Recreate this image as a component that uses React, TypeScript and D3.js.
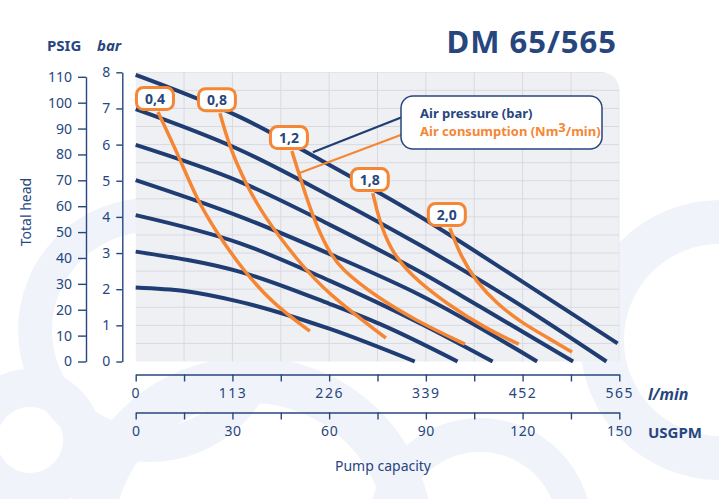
import React, { useRef, useEffect } from "react";
import * as d3 from "d3";

type Pt = [number, number]; // [l/min, bar]

// axis ticks
const flowTicks = [0, 56.5, 113, 169.5, 226, 282.5, 339, 395.5, 452, 508.5, 565];
const flowLabels = [0, 113, 226, 339, 452, 565];
const gpmTicks = [0, 15, 30, 45, 60, 75, 90, 105, 120, 135, 150];
const gpmLabels = [0, 30, 60, 90, 120, 150];
const psigTicks = [0, 10, 20, 30, 40, 50, 60, 70, 80, 90, 100, 110];
const barTicks = [0, 1, 2, 3, 4, 5, 6, 7, 8];

// air pressure curves (bar)
const pressure8: Pt[] = [[0, 7.93], [122, 6.76], [227, 5.43], [332, 4.01], [449, 2.25], [563, 0.5]];
const pressure7: Pt[] = [[0, 6.98], [122, 5.85], [227, 4.58], [332, 3.22], [425, 1.92], [550, 0]];
const pressure6: Pt[] = [[0, 5.99], [122, 4.97], [227, 3.78], [332, 2.48], [402, 1.52], [511, 0]];
const pressure5: Pt[] = [[0, 5.02], [122, 4.01], [227, 2.97], [332, 1.84], [469, 0]];
const pressure4: Pt[] = [[0, 4.05], [122, 3.27], [227, 2.23], [332, 1.06], [417, 0]];
const pressure3: Pt[] = [[0, 3.04], [122, 2.48], [227, 1.59], [285, 1.04], [376, 0]];
const pressure2: Pt[] = [[0, 2.05], [57, 1.95], [122, 1.65], [227, 0.9], [326, 0]];

// air consumption curves (Nm3/min)
const consumption04: Pt[] = [[26, 6.9], [50, 5.7], [71.6, 4.47], [95, 3.55], [125.3, 2.53], [160.3, 1.6], [203.5, 0.84]];
const consumption08: Pt[] = [[98.4, 6.87], [110, 5.91], [128, 4.95], [148.7, 4.05], [188.5, 2.81], [223.4, 1.89], [292.3, 0.65]];
const consumption12: Pt[] = [[182.5, 5.82], [191.9, 5.1], [207, 3.99], [224.5, 3.08], [240, 2.55], [281.8, 1.78], [326, 1.15], [384.6, 0.48]];
const consumption18: Pt[] = [[277, 4.66], [284, 3.95], [297, 3.12], [320, 2.4], [364, 1.58], [410, 0.9], [447.6, 0.48]];
const consumption20: Pt[] = [[367, 3.69], [380, 2.9], [398, 2.2], [422, 1.6], [449, 1.1], [484, 0.62], [509.8, 0.26]];
const consumptionLabels = ["0,4", "0,8", "1,2", "1,8", "2,0"];

const BLUE = "#1f3d72";
const TEXT = "#27467e";
const ORANGE = "#f58634";
const FONT = "'Noto Sans', 'Open Sans', sans-serif";

export default function App() {
    const svgRef = useRef<SVGSVGElement | null>(null);

    useEffect(() => {
        if (!svgRef.current) return;
        const svg = d3.select(svgRef.current);
        svg.selectAll("*").remove();

        const left = 135.7, right = 619.3, top = 72.3, bottom = 361.5;
        const x = d3.scaleLinear().domain([0, 565]).range([left, right]);
        const xGpm = d3.scaleLinear().domain([0, 150]).range([left, right]);
        const y = d3.scaleLinear().domain([0, 8]).range([bottom, top]);
        const yPsig = d3.scaleLinear().domain([0, 110]).range([bottom, 76.8]);

        // watermark swirls
        const wm = svg.append("g").attr("fill", "none").attr("stroke", "#f0f4fa");
        [[30, 440, 52, 38], [250, 540, 160, 46], [720, 340, 118, 44], [480, 530, 95, 34], [150, 330, 115, 34]].forEach(
            ([cx, cy, r, w]) => {
                wm.append("circle").attr("cx", cx).attr("cy", cy).attr("r", r).attr("stroke-width", w);
            },
        );

        // plot background with rounded top-right corner
        const rr = 20;
        const bgPath = `M${left},${top} H${right - rr} Q${right},${top} ${right},${top + rr} V${bottom} H${left} Z`;
        svg.append("clipPath").attr("id", "plotClip").append("path").attr("d", bgPath);
        svg.append("path").attr("d", bgPath).attr("fill", "#eff0f4");

        const grid = svg.append("g").attr("clip-path", "url(#plotClip)").attr("stroke", "#d9dadf").attr("stroke-width", 1);
        flowTicks.slice(1).forEach((t) => {
            grid.append("line").attr("x1", x(t)).attr("x2", x(t)).attr("y1", top).attr("y2", bottom);
        });
        d3.range(0.5, 8.01, 0.5).forEach((b) => {
            grid.append("line").attr("x1", left).attr("x2", right).attr("y1", y(b)).attr("y2", y(b));
        });

        const styleAxis = (g: d3.Selection<SVGGElement, unknown, null, undefined>, size: number) => {
            g.attr("font-family", FONT).attr("font-size", size);
            g.selectAll("line,path").attr("stroke", TEXT).attr("stroke-width", 1.4);
            g.selectAll("text").attr("fill", TEXT);
        };

        // left axes
        const gPsig = svg.append("g").attr("transform", "translate(86,0)")
            .call(d3.axisLeft(yPsig).tickValues(psigTicks).tickSize(8).tickSizeOuter(0).tickPadding(6));
        styleAxis(gPsig, 14);
        const gBar = svg.append("g").attr("transform", "translate(122.3,0)")
            .call(d3.axisLeft(y).tickValues(barTicks).tickSize(6).tickSizeOuter(0).tickPadding(6));
        styleAxis(gBar, 14);

        // bottom axes
        const gFlow = svg.append("g").attr("transform", "translate(0,374.5)")
            .call(d3.axisBottom(x).tickValues(flowTicks).tickSize(7).tickSizeOuter(0).tickPadding(7)
                .tickFormat((d) => (flowLabels.includes(+d) ? String(d) : "")));
        styleAxis(gFlow, 14);
        gFlow.selectAll("text").attr("letter-spacing", 1.5);
        const gGpm = svg.append("g").attr("transform", "translate(0,412.5)")
            .call(d3.axisBottom(xGpm).tickValues(gpmTicks).tickSize(7).tickSizeOuter(0).tickPadding(7)
                .tickFormat((d) => (gpmLabels.includes(+d) ? String(d) : "")));
        styleAxis(gGpm, 14);
        gGpm.selectAll("text").attr("letter-spacing", 0.5);

        const line = d3.line<Pt>().x((d) => x(d[0])).y((d) => y(d[1])).curve(d3.curveMonotoneX);
        const smooth = d3.line<Pt>().x((d) => x(d[0])).y((d) => y(d[1])).curve(d3.curveBasis);

        // pressure curves
        [pressure8, pressure7, pressure6, pressure5, pressure4, pressure3, pressure2].forEach((c) => {
            svg.append("path").datum(c).attr("d", line).attr("fill", "none")
                .attr("stroke", BLUE).attr("stroke-width", 4).attr("stroke-linecap", "butt");
        });

        // consumption curves
        const consumption = [consumption04, consumption08, consumption12, consumption18, consumption20];
        consumption.forEach((c) => {
            svg.append("path").datum(c).attr("d", smooth).attr("fill", "none")
                .attr("stroke", ORANGE).attr("stroke-width", 3.5);
        });

        // legend leader lines
        svg.append("line").attr("x1", 410).attr("y1", 114).attr("x2", x(207)).attr("y2", y(5.79))
            .attr("stroke", BLUE).attr("stroke-width", 2.2);
        svg.append("line").attr("x1", 410).attr("y1", 131.5).attr("x2", x(190.6)).attr("y2", y(5.21))
            .attr("stroke", ORANGE).attr("stroke-width", 2.2);

        // consumption labels
        consumption.forEach((c, i) => {
            const cx = x(c[0][0]) - 3;
            const cy = y(c[0][1]) - 13.5;
            const g = svg.append("g").attr("transform", `translate(${cx},${cy})`);
            g.append("rect").attr("x", -18.5).attr("y", -11).attr("width", 37).attr("height", 22).attr("rx", 7)
                .attr("fill", "#fff").attr("stroke", ORANGE).attr("stroke-width", 3);
            g.append("text").attr("text-anchor", "middle").attr("dy", "0.36em")
                .attr("font-family", FONT).attr("font-weight", 700).attr("font-size", 14)
                .attr("fill", TEXT).text(consumptionLabels[i]);
        });

        // legend box
        svg.append("rect").attr("x", 401).attr("y", 96).attr("width", 201).attr("height", 53).attr("rx", 12)
            .attr("fill", "#fff").attr("stroke", TEXT).attr("stroke-width", 1.5);
        svg.append("text").attr("x", 420).attr("y", 118).attr("font-family", FONT).attr("font-weight", 700)
            .attr("font-size", 13).attr("fill", TEXT).text("Air pressure (bar)");
        const cons = svg.append("text").attr("x", 420).attr("y", 136).attr("font-family", FONT)
            .attr("font-weight", 700).attr("font-size", 13).attr("fill", ORANGE);
        cons.append("tspan").text("Air consumption (Nm");
        cons.append("tspan").attr("dy", -4).text("3");
        cons.append("tspan").attr("dy", 4).text("/min)");

        // titles and axis names
        svg.append("text").attr("x", 617).attr("y", 53).attr("text-anchor", "end")
            .attr("font-family", FONT).attr("font-weight", 700).attr("font-size", 31)
            .attr("letter-spacing", 1).attr("fill", TEXT).text("DM 65/565");
        svg.append("text").attr("x", 47).attr("y", 51).attr("font-family", FONT).attr("font-weight", 700)
            .attr("font-size", 15).attr("fill", TEXT).text("PSIG");
        svg.append("text").attr("x", 97).attr("y", 51).attr("font-family", FONT).attr("font-weight", 700)
            .attr("font-style", "italic").attr("font-size", 15).attr("fill", TEXT).text("bar");
        svg.append("text").attr("transform", "translate(31,212) rotate(-90)").attr("text-anchor", "middle")
            .attr("font-family", FONT).attr("font-size", 14).attr("fill", TEXT).text("Total head");
        svg.append("text").attr("x", 648).attr("y", 400).attr("font-family", FONT).attr("font-weight", 700)
            .attr("font-style", "italic").attr("font-size", 16).attr("fill", TEXT).text("l/min");
        svg.append("text").attr("x", 648).attr("y", 438).attr("font-family", FONT).attr("font-weight", 700)
            .attr("font-size", 15).attr("fill", TEXT).text("USGPM");
        svg.append("text").attr("x", 383).attr("y", 471).attr("text-anchor", "middle")
            .attr("font-family", FONT).attr("font-size", 14).attr("fill", TEXT).text("Pump capacity");
    }, []);

    return (
        <svg ref={svgRef} width={719} height={499}
            style={{ position: "absolute", left: 0, top: 0, background: "#fff" }}></svg>
    );
}
